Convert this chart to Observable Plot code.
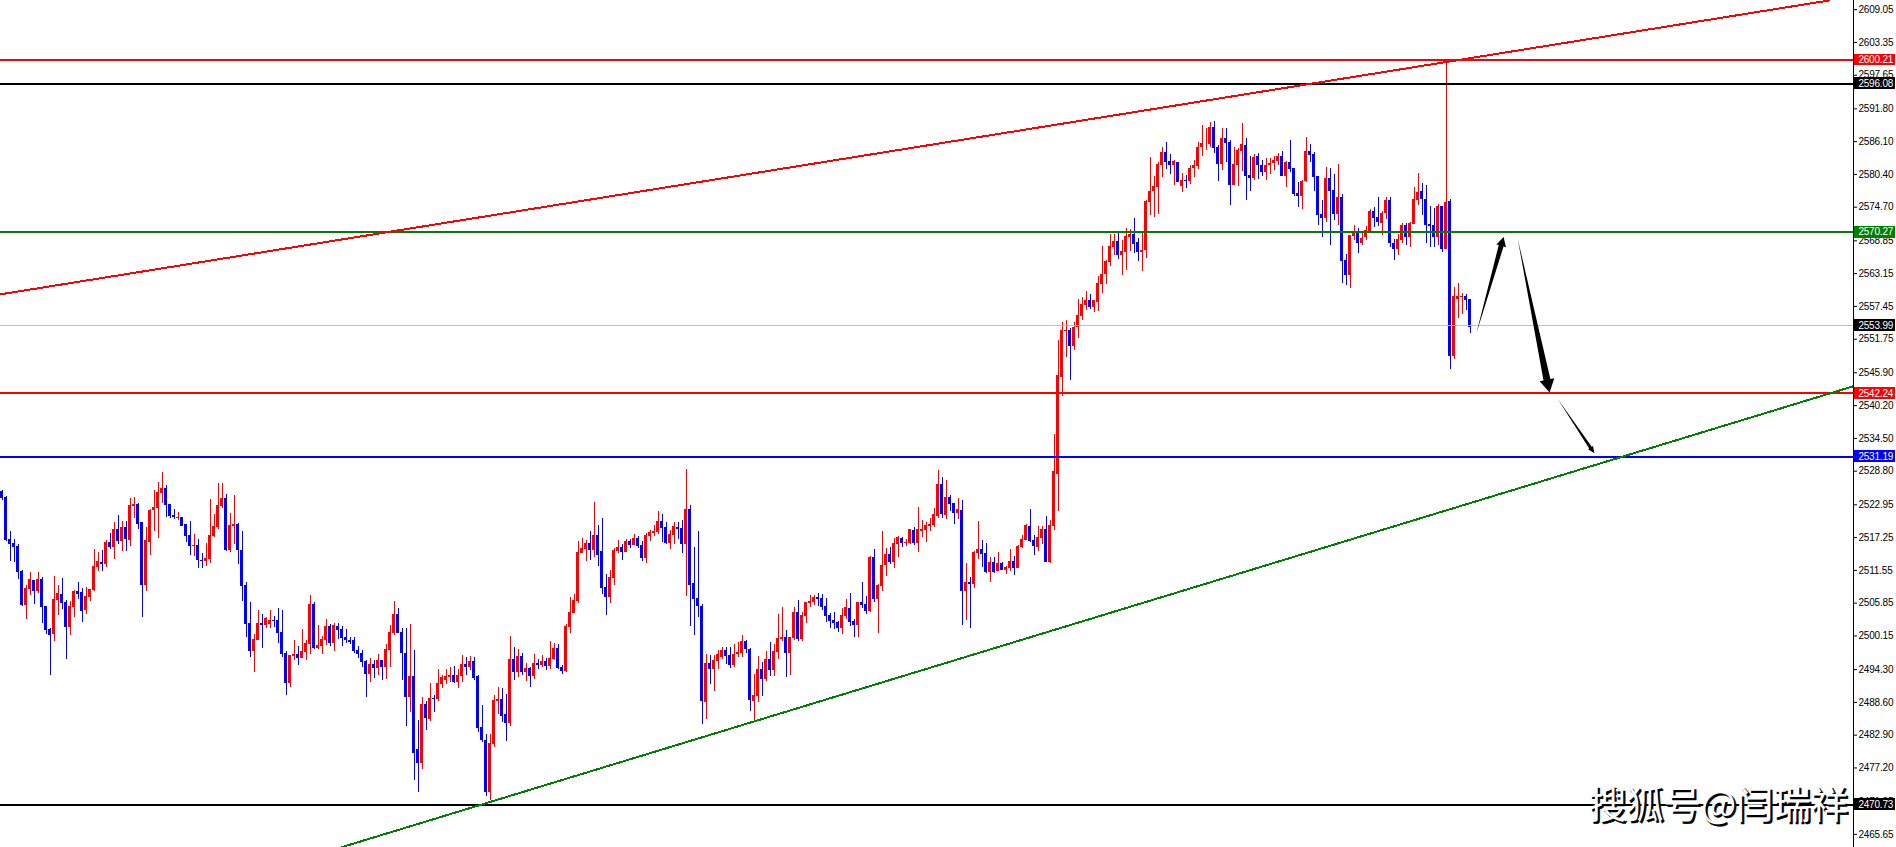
<!DOCTYPE html>
<html><head><meta charset="utf-8">
<style>html,body{margin:0;padding:0;background:#fff;overflow:hidden}svg{display:block}</style>
<script src="https://cdn.jsdelivr.net/npm/d3@7"></script>
<script src="https://cdn.jsdelivr.net/npm/@observablehq/plot@0.6"></script>
</head><body><div id="chart"></div>
<script>
const wickHigh=[
2525.5,2524.4,2518.3,2516.9,2516.0,2511.5,2508.9,2511.2,2509.8,2511.2,
2510.3,2505.2,2501.4,2510.5,2508.9,2510.1,2506.3,2506.1,2508.0,2509.4,
2508.4,2508.5,2508.2,2515.2,2514.6,2515.0,2516.7,2517.9,2519.9,2521.1,
2520.0,2520.0,2524.0,2524.2,2523.2,2519.9,2519.0,2522.1,2525.4,2526.8,
2528.6,2526.3,2523.0,2522.1,2521.6,2520.7,2519.5,2520.0,2517.8,2516.9,
2514.5,2516.2,2523.9,2521.3,2526.6,2526.6,2524.7,2521.4,2524.6,2519.7,
2518.3,2509.4,2505.9,2500.4,2504.5,2503.8,2503.3,2504.5,2503.5,2504.9,
2504.5,2497.4,2496.7,2499.3,2498.3,2501.2,2499.3,2507.2,2505.9,2501.9,
2500.0,2503.0,2502.1,2502.3,2502.3,2501.8,2501.2,2499.9,2499.9,2498.3,
2497.6,2495.8,2496.2,2495.8,2496.9,2495.8,2498.6,2501.9,2506.1,2504.9,
2501.4,2501.4,2502.1,2497.6,2485.4,2489.4,2488.7,2491.8,2489.8,2494.3,
2493.2,2494.3,2494.6,2494.8,2494.3,2496.7,2496.4,2496.5,2496.4,2493.2,
2488.0,2483.1,2483.1,2489.8,2491.1,2491.0,2489.9,2500.0,2498.1,2497.8,
2497.1,2495.3,2494.6,2496.9,2496.0,2496.7,2496.2,2499.2,2498.8,2498.6,
2495.0,2502.1,2506.8,2507.3,2516.6,2517.1,2516.7,2518.3,2523.3,2519.3,
2520.6,2510.8,2511.5,2515.3,2516.7,2516.0,2516.9,2516.9,2517.8,2517.4,
2516.6,2517.9,2518.5,2519.3,2521.8,2521.3,2519.9,2518.5,2519.9,2519.9,
2520.2,2529.1,2522.8,2515.5,2518.3,2505.6,2496.9,2496.7,2496.7,2497.6,
2498.1,2498.1,2498.1,2498.6,2499.0,2500.2,2499.3,2497.9,2493.4,2496.5,
2495.5,2497.4,2499.0,2498.6,2503.9,2505.1,2501.1,2499.9,2505.1,2506.3,
2504.2,2505.9,2507.2,2507.2,2507.5,2507.3,2506.6,2504.0,2504.2,2502.6,
2504.9,2506.5,2507.5,2503.0,2505.9,2509.4,2507.0,2513.9,2515.2,2509.1,
2518.3,2515.4,2515.5,2517.1,2517.4,2517.2,2516.9,2518.6,2519.0,2522.5,
2520.2,2519.9,2520.6,2522.3,2528.9,2527.7,2527.2,2524.6,2523.2,2524.0,
2523.7,2512.7,2510.3,2514.8,2520.0,2516.7,2516.2,2513.8,2513.8,2514.6,
2512.9,2512.2,2515.2,2513.9,2515.9,2517.6,2519.5,2522.1,2517.6,2519.2,
2519.2,2520.9,2520.2,2535.2,2551.5,2554.7,2555.0,2553.6,2554.7,2558.7,
2559.0,2560.0,2559.5,2558.5,2562.6,2567.8,2565.4,2569.9,2569.9,2570.1,
2568.9,2571.0,2570.8,2572.7,2569.2,2570.3,2575.9,2583.3,2580.0,2582.5,
2585.1,2585.9,2583.9,2582.8,2582.5,2580.5,2580.2,2581.9,2582.8,2585.9,
2588.9,2588.4,2589.4,2589.6,2585.4,2588.4,2588.4,2586.3,2585.1,2584.9,
2589.3,2586.6,2583.5,2583.9,2584.0,2582.8,2583.2,2583.2,2583.5,2584.0,
2584.4,2582.6,2586.3,2581.4,2579.0,2579.3,2586.8,2585.6,2584.2,2580.0,
2575.9,2581.6,2581.4,2580.4,2582.1,2576.9,2566.5,2569.8,2571.5,2571.0,
2570.3,2571.3,2574.3,2574.6,2576.4,2573.9,2576.4,2576.4,2569.1,2569.9,
2571.9,2571.9,2572.0,2578.1,2580.6,2578.8,2578.5,2574.8,2574.5,2575.2,
2574.8,2600.21,2576.0,2560.7,2561.4,2559.7,2559.5,2558.6];
const wickLow=[
2523.7,2516.6,2513.1,2512.9,2510.0,2505.2,2503.0,2507.2,2505.6,2507.5,
2502.3,2500.4,2493.2,2499.2,2503.7,2504.7,2496.0,2500.2,2503.3,2506.5,
2502.5,2503.9,2506.1,2507.9,2511.3,2511.3,2512.0,2515.2,2513.4,2516.0,
2514.8,2514.8,2515.7,2520.6,2518.6,2503.3,2507.9,2514.1,2518.3,2517.1,
2523.2,2520.7,2520.6,2520.4,2520.2,2519.2,2516.4,2514.1,2513.9,2511.8,
2511.8,2512.2,2512.7,2517.3,2518.6,2522.3,2514.8,2514.6,2516.0,2512.6,
2506.1,2499.8,2496.4,2493.8,2499.3,2497.9,2501.4,2501.4,2501.6,2498.8,
2496.4,2489.8,2491.1,2495.8,2495.0,2496.2,2495.8,2496.9,2497.8,2497.8,
2496.9,2498.5,2498.3,2497.4,2499.5,2498.3,2498.8,2498.6,2497.1,2496.2,
2494.6,2489.4,2492.0,2492.7,2493.2,2492.4,2492.5,2494.6,2500.2,2500.5,
2492.4,2484.4,2486.8,2475.1,2473.0,2476.9,2483.7,2485.2,2486.8,2488.7,
2491.0,2491.7,2492.0,2491.8,2491.0,2492.0,2493.2,2494.1,2492.4,2483.3,
2481.6,2472.2,2471.5,2480.7,2486.5,2485.1,2481.8,2484.4,2492.4,2492.9,
2493.2,2492.2,2491.1,2492.5,2494.3,2494.6,2494.1,2494.3,2495.8,2494.3,
2493.4,2493.8,2500.5,2504.0,2505.8,2514.5,2513.1,2513.3,2513.8,2512.2,
2507.3,2503.7,2505.8,2508.9,2514.5,2513.3,2514.6,2515.3,2515.9,2515.3,
2513.1,2512.7,2516.6,2517.4,2517.8,2516.4,2516.0,2515.2,2516.0,2516.9,
2514.5,2507.0,2501.8,2500.2,2503.3,2484.7,2485.6,2491.7,2490.5,2494.3,
2496.0,2495.2,2494.5,2494.6,2496.4,2496.4,2497.1,2487.1,2485.1,2488.5,
2489.6,2492.2,2493.1,2493.1,2496.0,2499.2,2492.9,2493.2,2499.3,2499.2,
2499.2,2502.3,2505.1,2505.4,2505.2,2504.5,2502.5,2501.4,2501.2,2500.7,
2500.4,2503.0,2501.8,2499.9,2499.9,2504.9,2503.9,2504.2,2505.9,2500.6,
2507.9,2510.5,2512.5,2511.9,2513.8,2515.5,2515.7,2516.0,2515.9,2514.6,
2517.2,2516.4,2518.3,2519.0,2520.6,2520.6,2520.4,2521.8,2519.5,2520.4,
2501.9,2502.8,2501.4,2508.4,2513.4,2512.0,2511.0,2509.4,2511.0,2511.3,
2511.5,2510.8,2511.3,2510.6,2511.9,2515.3,2516.7,2516.4,2514.1,2514.8,
2516.0,2512.9,2512.7,2518.5,2521.8,2541.7,2548.6,2544.6,2549.8,2551.9,
2555.0,2556.7,2556.9,2556.4,2556.5,2559.7,2561.2,2564.4,2566.3,2565.6,
2562.8,2563.7,2567.0,2566.6,2565.2,2563.5,2565.8,2573.2,2572.9,2573.4,
2579.9,2581.2,2580.4,2578.5,2579.0,2577.2,2577.9,2578.6,2579.9,2581.2,
2583.5,2584.6,2585.1,2584.0,2579.2,2581.1,2582.5,2575.0,2578.5,2578.3,
2580.9,2575.9,2577.4,2579.3,2579.5,2580.0,2579.3,2580.4,2581.1,2581.9,
2580.0,2578.1,2580.7,2576.5,2574.6,2574.3,2579.0,2582.5,2577.4,2571.5,
2569.4,2572.0,2568.0,2572.4,2571.5,2561.4,2561.1,2560.5,2568.9,2566.6,
2568.0,2568.9,2570.3,2571.2,2571.3,2569.8,2572.5,2567.7,2565.4,2566.3,
2568.4,2568.0,2567.7,2571.7,2575.0,2573.2,2568.4,2567.7,2567.7,2568.0,
2566.8,2567.3,2546.5,2548.2,2555.3,2556.0,2556.7,2552.7];
const bodyTop=[
2525.3,2524.2,2516.9,2516.2,2515.7,2511.3,2508.4,2510.0,2509.8,2510.0,
2510.0,2505.2,2501.2,2506.5,2507.5,2507.3,2505.9,2505.2,2507.9,2507.9,
2507.7,2507.0,2508.2,2512.2,2513.1,2512.9,2516.4,2516.4,2518.6,2518.6,
2519.0,2519.0,2522.8,2523.0,2523.0,2519.9,2516.7,2521.9,2522.5,2525.1,
2525.8,2525.8,2523.0,2521.1,2520.7,2520.7,2519.5,2517.6,2515.9,2515.9,
2513.3,2513.6,2517.6,2519.2,2522.8,2524.0,2524.0,2519.3,2519.5,2519.5,
2515.0,2508.9,2502.3,2499.5,2502.3,2502.3,2503.2,2502.8,2502.8,2502.8,
2500.7,2497.1,2496.7,2496.9,2496.9,2497.4,2498.8,2505.6,2505.6,2498.5,
2499.5,2501.8,2501.8,2501.9,2501.8,2501.2,2499.9,2499.3,2499.3,2497.6,
2497.1,2495.7,2495.2,2495.2,2495.8,2495.8,2497.8,2500.7,2503.9,2503.9,
2500.7,2497.1,2493.1,2493.1,2480.4,2488.2,2488.2,2489.2,2489.2,2491.8,
2492.9,2493.1,2493.2,2493.2,2493.2,2495.2,2495.2,2495.7,2495.7,2493.1,
2484.2,2481.9,2481.4,2488.9,2489.1,2489.1,2486.5,2496.0,2496.0,2496.5,
2496.5,2494.5,2494.5,2495.3,2495.3,2495.7,2495.7,2496.2,2497.9,2497.9,
2494.6,2501.8,2504.2,2506.3,2514.6,2515.3,2516.2,2516.2,2517.6,2517.6,
2514.8,2508.5,2510.3,2515.0,2515.5,2515.5,2516.6,2516.6,2517.1,2517.1,
2515.9,2517.6,2518.1,2518.3,2520.0,2520.0,2519.0,2517.8,2519.2,2519.0,
2518.8,2522.1,2522.1,2509.3,2506.6,2505.2,2495.3,2495.3,2495.8,2496.9,
2497.6,2497.6,2496.7,2496.9,2497.2,2499.2,2499.2,2497.8,2489.8,2494.3,
2494.3,2496.0,2496.0,2497.4,2499.7,2499.9,2499.9,2499.9,2504.2,2504.2,
2503.7,2505.9,2506.1,2506.8,2506.8,2506.6,2505.2,2503.7,2502.8,2502.5,
2503.7,2505.1,2504.9,2502.6,2505.9,2505.9,2505.6,2513.8,2513.8,2508.9,
2512.4,2514.3,2514.3,2516.2,2517.2,2517.1,2516.4,2518.6,2518.5,2518.6,
2518.6,2519.3,2519.5,2521.3,2526.5,2526.5,2524.2,2524.2,2523.2,2522.1,
2522.0,2509.4,2509.4,2514.6,2515.2,2515.2,2514.5,2512.9,2512.9,2512.7,
2512.7,2512.0,2513.1,2513.1,2515.7,2516.9,2519.3,2519.2,2516.7,2517.2,
2518.6,2518.6,2519.3,2528.7,2545.4,2553.3,2553.3,2553.3,2553.8,2555.9,
2557.8,2558.5,2558.5,2558.5,2561.4,2563.0,2565.3,2567.8,2568.7,2568.7,
2567.0,2569.6,2569.9,2569.9,2568.5,2567.2,2575.7,2577.4,2578.3,2582.1,
2584.2,2584.2,2582.6,2582.6,2582.5,2579.3,2579.3,2581.4,2581.9,2585.1,
2585.8,2585.8,2588.6,2588.6,2585.1,2586.6,2586.6,2585.9,2582.1,2584.6,
2585.6,2585.4,2580.2,2583.3,2583.5,2581.9,2581.9,2582.3,2582.8,2583.5,
2583.5,2582.5,2582.5,2581.4,2577.1,2579.2,2584.4,2584.4,2583.9,2580.0,
2573.4,2579.7,2579.7,2577.6,2576.4,2576.4,2565.4,2569.8,2570.3,2570.3,
2569.2,2570.6,2573.9,2573.9,2572.9,2573.6,2575.9,2575.9,2568.4,2569.1,
2571.5,2571.5,2571.9,2576.0,2577.2,2577.4,2576.0,2571.7,2571.5,2574.8,
2574.8,2575.5,2575.7,2559.1,2559.1,2559.1,2559.1,2558.6];
const bodyBottom=[
2524.0,2516.7,2516.1,2515.6,2511.2,2505.4,2505.4,2508.2,2507.9,2507.9,
2505.1,2501.1,2500.2,2500.4,2506.3,2505.8,2501.6,2501.6,2505.1,2507.3,
2504.4,2504.5,2506.8,2508.0,2512.0,2512.6,2512.6,2515.5,2515.5,2516.6,
2516.6,2516.9,2516.7,2522.6,2519.5,2508.9,2508.9,2516.4,2521.9,2522.3,
2524.9,2522.8,2520.9,2520.7,2520.6,2519.2,2517.4,2515.7,2515.7,2513.3,
2513.1,2513.1,2513.4,2517.4,2519.0,2522.6,2515.0,2515.0,2519.2,2515.0,
2508.7,2502.1,2497.4,2497.4,2499.3,2501.9,2501.9,2502.1,2502.6,2500.5,
2496.9,2491.8,2491.8,2496.5,2496.2,2496.2,2497.2,2498.6,2497.9,2497.9,
2498.3,2499.3,2498.8,2498.8,2501.1,2499.7,2499.3,2499.0,2497.4,2496.9,
2495.5,2493.4,2493.4,2494.5,2494.5,2494.6,2494.6,2497.6,2500.5,2500.5,
2497.1,2489.4,2489.4,2479.7,2477.9,2477.9,2485.8,2485.6,2489.1,2489.1,
2491.7,2492.4,2492.9,2492.0,2492.0,2493.1,2494.6,2494.6,2492.7,2484.0,
2481.9,2472.9,2472.9,2481.2,2488.7,2486.1,2484.9,2484.9,2493.8,2493.8,
2493.8,2493.8,2493.1,2493.1,2495.0,2495.0,2494.8,2494.8,2496.0,2494.5,
2493.9,2493.9,2501.6,2504.0,2506.1,2514.5,2515.2,2515.0,2515.0,2514.1,
2508.4,2506.8,2506.8,2510.1,2514.8,2514.6,2514.6,2515.9,2515.9,2515.7,
2513.6,2513.6,2517.4,2517.9,2518.1,2518.8,2516.2,2516.2,2517.6,2518.6,
2516.0,2516.0,2508.9,2506.5,2505.2,2488.7,2488.5,2494.3,2494.3,2495.7,
2496.4,2496.5,2495.0,2495.0,2496.9,2497.1,2497.8,2488.9,2488.7,2489.6,
2492.5,2492.5,2494.1,2494.1,2497.2,2499.5,2497.1,2497.1,2499.7,2499.5,
2499.5,2503.5,2505.8,2505.9,2506.5,2505.1,2503.5,2502.6,2502.3,2501.4,
2501.4,2503.5,2502.5,2501.9,2501.9,2505.4,2504.4,2504.4,2506.5,2506.5,
2508.7,2512.4,2512.9,2512.9,2516.0,2516.2,2516.2,2516.2,2516.2,2516.2,
2518.3,2518.5,2519.2,2519.3,2520.9,2521.3,2521.1,2523.0,2521.4,2521.4,
2507.9,2507.9,2509.1,2509.1,2514.5,2514.3,2511.2,2511.2,2511.2,2511.3,
2511.5,2511.5,2511.9,2511.9,2511.9,2515.5,2516.7,2516.6,2515.7,2515.5,
2517.1,2512.9,2512.9,2519.2,2528.2,2545.1,2553.1,2550.5,2550.5,2553.8,
2555.7,2557.6,2557.3,2557.3,2558.1,2561.2,2563.0,2565.1,2567.7,2566.3,
2566.3,2566.8,2569.4,2568.2,2566.8,2566.8,2567.2,2575.5,2577.4,2578.1,
2581.9,2582.5,2581.9,2581.9,2579.0,2578.3,2579.2,2579.2,2581.4,2581.8,
2585.1,2585.7,2585.6,2584.9,2582.1,2582.1,2585.8,2578.5,2578.5,2581.9,
2584.4,2580.0,2579.7,2579.7,2581.9,2580.7,2580.7,2581.9,2582.3,2582.6,
2580.0,2580.0,2581.2,2576.9,2576.5,2576.5,2579.2,2583.7,2579.9,2573.2,
2572.7,2572.7,2577.4,2573.4,2573.4,2565.2,2562.8,2562.8,2569.6,2568.4,
2568.4,2569.4,2570.3,2572.7,2572.0,2571.8,2573.6,2568.4,2567.3,2567.3,
2568.9,2569.4,2569.4,2571.7,2575.9,2576.0,2571.5,2571.3,2569.4,2569.4,
2567.3,2567.3,2548.7,2548.7,2558.6,2559.0,2558.5,2553.8];
const direction=[
"bbbbbbrrbr","bbbrrbbrrb","brrrrbrbrb","rbrrbbrrrr","rbbbrbbbrb","brrrrrbrrb","bbbrrbrrbb","bbrrbrrrbr",
"rrbrbbbbbb","bbrbrbrrrb","bbrbbrbrbr","rrrbrrbrbb","bbrrrbbrbr","brbrbrbrrb","brrrrrrbrb","bbrrrbrbrb",
"brrrrbbrrb","brbbbbrbrr","rbbrrrbbrr","brbrrrbrrb","rrrrbbbbbb","rrbbrbbrbr","rrbrrbrrbr","rrrrrbrbbr",
"brbrrbbrbr","brrbrrrbbr","rbrrrrrbrr","rrbrrrrrrb","rrrbbrrrrr","rbbrbrbrrr","rrrbbrbbrr","rbbrbbrrrr",
"brbbbrrbbb","brbbrbbrrb","rrrbbrrbbr","rbrrrbbbbr","brbrrrbb"].join("");

const priceTicks=[2609.05,2603.35,2597.65,2591.80,2586.10,2580.40,2574.70,2568.85,2563.15,2557.45,2551.75,2545.90,2540.20,2534.50,2528.80,2522.95,2517.25,2511.55,2505.85,2500.15,2494.30,2488.60,2482.90,2477.20,2471.35,2465.65];
const levelPrices=[2600.21,2596.08,2570.27,2553.99,2542.24,2531.19,2470.73];
const levelColors=["#ff0000","#000000","#008000","#c0c0c0","#ff0000","#0000ff","#000000"];
const levelLabelColors=["#ff0000","#000000","#008000","#000000","#ff0000","#0000ff","#000000"];
const levelWidths=[2,2,2,1,2,2,2];
const trendRed=[{i:-0.4,p:2559.55},{i:456.7,p:2610.64}];
const trendGreen=[{i:84.7,p:2463.37},{i:462.8,p:2543.56}];
const arrowStarts=[[368.6,2552.8],[378.9,2569.3],[388.9,2541.4]];
const arrowTips=[[375.4,2569.5],[386.9,2542.5],[398.1,2531.9]];
const arrowShaftPx=[5,7,3];
const arrowHeadWidthPx=[10,15,6];
const arrowHeadLengthPx=[9,13,7];
const watermark="搜狐号@闫瑞祥";

const W=1896,H=847,axisX=1853;
const xDomain=[-0.375,462.875],yDomain=[2463.366,2610.643];
const pxI=axisX/(xDomain[1]-xDomain[0]),pxP=H/(yDomain[1]-yDomain[0]);
const candles=wickHigh.map((h,i)=>({i,h,l:wickLow[i],t:bodyTop[i],b:bodyBottom[i],c:direction[i]==="r"?"#ff0000":"#0000ff"}));
const levels=levelPrices.map((p,k)=>({p,c:levelColors[k],lc:levelLabelColors[k],w:levelWidths[k]}));

function arrowPolygon(k){
  const [i0,p0]=arrowStarts[k],[i1,p1]=arrowTips[k];
  const dx=(i1-i0)*pxI,dy=-(p1-p0)*pxP,len=Math.hypot(dx,dy),ux=dx/len,uy=dy/len,nx=-uy,ny=ux;
  const L=arrowHeadLengthPx[k],S=arrowShaftPx[k]/2,Hw=arrowHeadWidthPx[k]/2;
  const pts=[[0,0],[len-L,S],[len-L,Hw],[len,0],[len-L,-Hw],[len-L,-S]];
  return pts.map(([a,b])=>({k,i:i0+(ux*a+nx*b)/pxI,p:p0-(uy*a+ny*b)/pxP}));
}
const arrowPts=arrowStarts.flatMap((_,k)=>arrowPolygon(k));
const labelLeft=463.1,labelRight=473.4,labelText=464.1;

const plot=Plot.plot({
  width:W,height:H,marginLeft:0,marginRight:W-axisX,marginTop:0,marginBottom:0,
  style:{fontFamily:"'Liberation Sans',Arial,sans-serif",fontSize:"10px",letterSpacing:"-0.2px",background:"#fff",color:"#000"},
  x:{domain:xDomain,range:[0,axisX],axis:null},
  y:{domain:yDomain,range:[H,0],axis:null},
  marks:[
    Plot.ruleX(candles,{x:"i",y1:"l",y2:"h",stroke:"c",strokeWidth:1,shapeRendering:"crispEdges"}),
    Plot.rect(candles,{x1:d=>d.i-0.375,x2:d=>d.i+0.375,y1:"b",y2:"t",fill:"c",shapeRendering:"crispEdges"}),
    Plot.ruleY(levels,{y:"p",stroke:"c",strokeWidth:"w",x1:xDomain[0],x2:xDomain[1],dy:-0.5,shapeRendering:"crispEdges"}),
    Plot.line(trendRed,{x:"i",y:"p",stroke:"#ff0000",strokeWidth:2,shapeRendering:"crispEdges"}),
    Plot.line(trendGreen,{x:"i",y:"p",stroke:"#008000",strokeWidth:2,shapeRendering:"crispEdges"}),
    Plot.line(arrowPts,{x:"i",y:"p",z:"k",fill:"#000",stroke:"none",curve:"linear-closed"}),
    Plot.ruleX([462.75],{stroke:"#000",strokeWidth:1,shapeRendering:"crispEdges"}),
    Plot.axisY(priceTicks,{anchor:"right",tickSize:3,tickPadding:2,tickFormat:d=>d.toFixed(2),label:null,textStroke:"none"}),
    Plot.rect(levels,{x1:labelLeft,x2:labelRight,y1:d=>d.p-1.04,y2:d=>d.p+1.04,dy:-0.5,fill:"lc",shapeRendering:"crispEdges"}),
    Plot.text(levels,{x:labelText,y:"p",dy:-0.5,text:d=>d.p.toFixed(2),fill:"#fff",textAnchor:"start"}),
    Plot.text([watermark],{x:396.7,y:2470.5,text:d=>d,fill:"#000",stroke:"#000",strokeWidth:0.6,dx:2,dy:2,textAnchor:"start",fontSize:37.5,letterSpacing:"0px",fontFamily:"'Noto Sans CJK SC'"}),
    Plot.text([watermark],{x:396.7,y:2470.5,text:d=>d,fill:"#fff",textAnchor:"start",fontSize:37.5,letterSpacing:"0px",fontFamily:"'Noto Sans CJK SC'"})
  ]
});
document.getElementById("chart").appendChild(plot);
</script></body></html>
